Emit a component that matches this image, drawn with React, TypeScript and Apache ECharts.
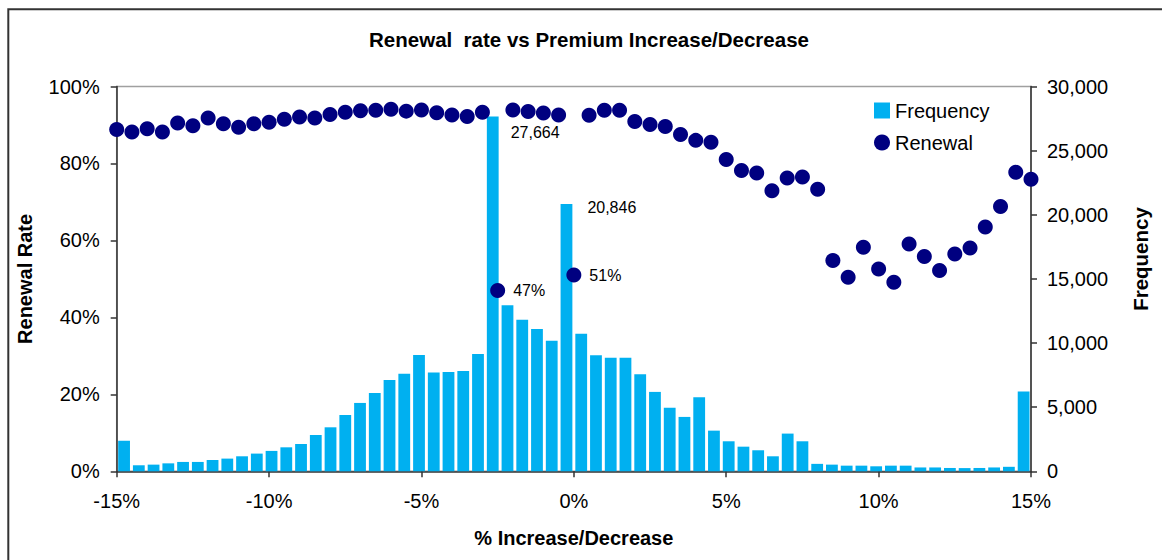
import React, { useEffect, useRef } from "react";
import * as echarts from "echarts";

// Histogram bins (upper bound of each 0.5% bucket; first and last hold the overflow)
const binLabels: string[] = [
  "-15.0", "-14.5", "-14.0", "-13.5", "-13.0", "-12.5", "-12.0", "-11.5", "-11.0", "-10.5",
  "-10.0", "-9.5", "-9.0", "-8.5", "-8.0", "-7.5", "-7.0", "-6.5", "-6.0", "-5.5",
  "-5.0", "-4.5", "-4.0", "-3.5", "-3.0", "-2.5", "-2.0", "-1.5", "-1.0", "-0.5",
  "0.0", "0.5", "1.0", "1.5", "2.0", "2.5", "3.0", "3.5", "4.0", "4.5",
  "5.0", "5.5", "6.0", "6.5", "7.0", "7.5", "8.0", "8.5", "9.0", "9.5",
  "10.0", "10.5", "11.0", "11.5", "12.0", "12.5", "13.0", "13.5", "14.0", "14.5",
  "15.0", "15.5",
];

// Number of policies in each bin
const frequency: number[] = [
  2390, 470, 520, 620, 730, 730, 880, 990, 1170, 1380,
  1590, 1870, 2130, 2830, 3430, 4390, 5330, 6110, 7120, 7610,
  9070, 7710, 7740, 7820, 9150, 27664, 12940, 11820, 11090, 10180,
  20846, 10730, 9040, 8860, 8860, 7560, 6190, 4960, 4240, 5770,
  3170, 2340, 1920, 1640, 1170, 2940, 2340, 580, 520, 440,
  440, 390, 440, 440, 300, 300, 260, 250, 260, 300,
  350, 6230,
];

// Premium change (%) at which each renewal rate is measured
const renewalX: number[] = [
  -15, -14.5, -14, -13.5, -13, -12.5, -12, -11.5, -11, -10.5,
  -10, -9.5, -9, -8.5, -8, -7.5, -7, -6.5, -6, -5.5,
  -5, -4.5, -4, -3.5, -3, -2.5, -2, -1.5, -1, -0.5,
  0, 0.5, 1, 1.5, 2, 2.5, 3, 3.5, 4, 4.5,
  5, 5.5, 6, 6.5, 7, 7.5, 8, 8.5, 9, 9.5,
  10, 10.5, 11, 11.5, 12, 12.5, 13, 13.5, 14, 14.5,
  15,
];

// Renewal rate (%)
const renewalRate: number[] = [
  88.8, 88.2, 89.0, 88.2, 90.5, 89.8, 91.8, 90.3, 89.4, 90.3,
  90.7, 91.5, 92.1, 91.8, 92.7, 93.3, 93.7, 93.8, 94.1, 93.6,
  93.9, 93.2, 92.6, 92.2, 93.3, 47, 93.9, 93.5, 93.1, 92.6,
  51, 92.5, 93.8, 93.8, 90.9, 90.1, 89.6, 87.5, 86.0, 85.5,
  81.0, 78.2, 77.5, 72.9, 76.2, 76.5, 73.3, 54.8, 50.4, 58.2,
  52.6, 49.1, 59.1, 55.8, 52.2, 56.5, 58.0, 63.5, 68.8, 77.7,
  75.9,
];

const xTicks = { min: -15, max: 15, interval: 5 };
const rateTicks = { min: 0, max: 100, interval: 20 };
const freqTicks = { min: 0, max: 30000, interval: 5000 };

// Bins whose counts are printed, with the label offset from the bar's top-right corner
const labelledBins: Record<number, [number, number]> = { 25: [12, 8], 30: [15, -4] };
// Points whose rates are printed
const labelledRates: number[] = [-2.5, 0];

const FONT = '"Liberation Sans", Arial, Helvetica, sans-serif';
const BAR_COLOR = "#00B0F0";
const DOT_COLOR = "#000080";
const AXIS_COLOR = "#333333";

const fmtThousands = (v: number) => String(Math.round(v)).replace(/\B(?=(\d{3})+(?!\d))/g, ",");

export default function App() {
  const ref = useRef<HTMLDivElement>(null);

  useEffect(() => {
    if (!ref.current) return;
    const chart = echarts.init(ref.current, undefined, { renderer: "svg" });

    const barData = frequency.map((v, i) => {
      const off = labelledBins[i];
      if (!off) return v;
      return {
        value: v,
        label: {
          show: true,
          position: ["100%", 0],
          offset: off,
          align: "left",
          verticalAlign: "top",
          fontSize: 16,
          fontFamily: FONT,
          color: "#000",
          formatter: (p: any) => fmtThousands(p.value),
        },
      };
    });

    const dotData = renewalX.map((x, i) => {
      const y = renewalRate[i];
      if (!labelledRates.includes(x)) return [x, y];
      return {
        value: [x, y],
        label: {
          show: true,
          position: "right",
          distance: 8,
          fontSize: 16,
          fontFamily: FONT,
          color: "#000",
          formatter: (p: any) => `${Math.round(p.value[1])}%`,
        },
      };
    });

    const tickLabel = { color: "#000", fontSize: 20, fontFamily: FONT };
    const axisLine = { show: true, onZero: false, lineStyle: { color: AXIS_COLOR, width: 1.5 } };
    const axisTick = { show: true, length: 6, lineStyle: { color: AXIS_COLOR, width: 1.5 } };

    chart.setOption({
      animation: false,
      backgroundColor: "#ffffff",
      textStyle: { fontFamily: FONT },
      grid: {
        left: 116.7,
        right: 131,
        top: 86.5,
        bottom: 88.7,
        show: true,
        borderColor: "#a0a0a0",
        borderWidth: 1.5,
        backgroundColor: "transparent",
        outerBoundsMode: "none",
      },
      legend: {
        orient: "vertical",
        left: 874,
        top: 100.5,
        padding: 0,
        itemWidth: 16,
        itemHeight: 16,
        itemGap: 12,
        selectedMode: false,
        textStyle: { fontSize: 20, color: "#000", fontFamily: FONT },
        data: [
          { name: "Frequency", icon: "rect" },
          { name: "Renewal", icon: "circle" },
        ],
      },
      xAxis: [
        {
          type: "category",
          data: binLabels,
          position: "top",
          boundaryGap: true,
          show: false,
        },
        {
          type: "value",
          position: "bottom",
          min: xTicks.min,
          max: xTicks.max,
          interval: xTicks.interval,
          name: "% Increase/Decrease",
          nameLocation: "middle",
          nameGap: 57,
          nameTextStyle: { fontSize: 20, fontWeight: "bold", color: "#000", fontFamily: FONT },
          axisLine,
          axisTick,
          axisLabel: { ...tickLabel, margin: 20, formatter: (v: number) => `${v}%` },
          splitLine: { show: false },
        },
      ],
      yAxis: [
        {
          type: "value",
          position: "left",
          min: rateTicks.min,
          max: rateTicks.max,
          interval: rateTicks.interval,
          name: "Renewal Rate",
          nameLocation: "middle",
          nameGap: 82,
          nameTextStyle: { fontSize: 20, fontWeight: "bold", color: "#000", fontFamily: FONT },
          axisLine,
          axisTick,
          axisLabel: { ...tickLabel, margin: 17, formatter: (v: number) => `${v}%` },
          splitLine: { show: false },
        },
        {
          type: "value",
          position: "right",
          min: freqTicks.min,
          max: freqTicks.max,
          interval: freqTicks.interval,
          axisLine,
          axisTick,
          axisLabel: { ...tickLabel, margin: 16, formatter: (v: number) => fmtThousands(v) },
          splitLine: { show: false },
        },
      ],
      series: [
        {
          name: "Frequency",
          type: "bar",
          xAxisIndex: 0,
          yAxisIndex: 1,
          barWidth: "80%",
          itemStyle: { color: BAR_COLOR },
          data: barData,
          z: 2,
        },
        {
          name: "Renewal",
          type: "scatter",
          xAxisIndex: 1,
          yAxisIndex: 0,
          symbol: "circle",
          symbolSize: 15,
          itemStyle: { color: DOT_COLOR, opacity: 1 },
          data: dotData,
          z: 3,
        },
      ],
      graphic: [
        {
          type: "rect",
          shape: { x: 8.3, y: 9.3, width: 1200, height: 600 },
          style: { fill: "none", stroke: "#333333", lineWidth: 2 },
          silent: true,
        },
        {
          type: "text",
          x: 589,
          y: 39.5,
          style: {
            text: "Renewal  rate vs Premium Increase/Decrease",
            fontSize: 20.5,
            fontWeight: "bold",
            fontFamily: FONT,
            fill: "#000",
            align: "center",
            verticalAlign: "middle",
          },
        },
        {
          type: "text",
          x: 1140,
          y: 259,
          rotation: Math.PI / 2,
          style: {
            text: "Frequency",
            fontSize: 20.5,
            fontWeight: "bold",
            fontFamily: FONT,
            fill: "#000",
            align: "center",
            verticalAlign: "middle",
          },
        },
      ],
    });

    return () => chart.dispose();
  }, []);

  return (
    <div
      ref={ref}
      style={{ position: "fixed", left: 0, top: 0, width: 1162, height: 560, background: "#fff" }}
    />
  );
}
